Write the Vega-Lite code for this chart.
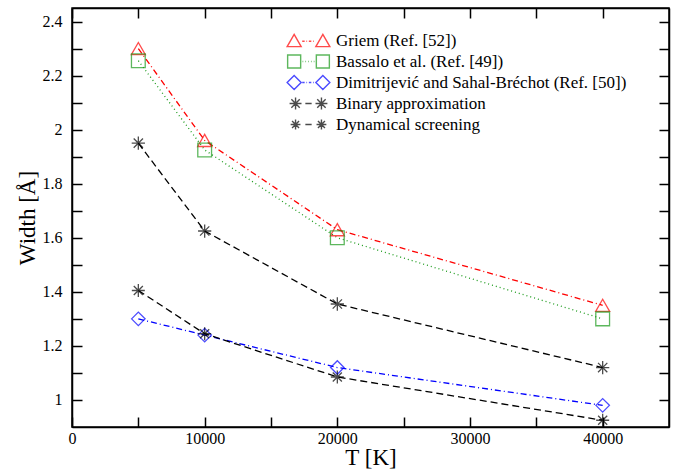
{
  "$schema": "https://vega.github.io/schema/vega-lite/v6.json",
  "width": 597,
  "height": 419,
  "autosize": {"type": "none"},
  "padding": {"left": 72, "top": 8, "right": 20, "bottom": 45},
  "background": "white",
  "data": {
    "values": [
      {"s": "Griem (Ref. [52])", "T": 5000, "w": 2.30},
      {"s": "Griem (Ref. [52])", "T": 10000, "w": 1.96},
      {"s": "Griem (Ref. [52])", "T": 20000, "w": 1.63},
      {"s": "Griem (Ref. [52])", "T": 40000, "w": 1.35},
      {"s": "Bassalo et al. (Ref. [49])", "T": 5000, "w": 2.255},
      {"s": "Bassalo et al. (Ref. [49])", "T": 10000, "w": 1.925},
      {"s": "Bassalo et al. (Ref. [49])", "T": 20000, "w": 1.60},
      {"s": "Bassalo et al. (Ref. [49])", "T": 40000, "w": 1.30},
      {"s": "Dimitrijević and Sahal-Bréchot (Ref. [50])", "T": 5000, "w": 1.30},
      {"s": "Dimitrijević and Sahal-Bréchot (Ref. [50])", "T": 10000, "w": 1.24},
      {"s": "Dimitrijević and Sahal-Bréchot (Ref. [50])", "T": 20000, "w": 1.12},
      {"s": "Dimitrijević and Sahal-Bréchot (Ref. [50])", "T": 40000, "w": 0.98},
      {"s": "Binary approximation", "T": 5000, "w": 1.95},
      {"s": "Binary approximation", "T": 10000, "w": 1.625},
      {"s": "Binary approximation", "T": 20000, "w": 1.355},
      {"s": "Binary approximation", "T": 40000, "w": 1.12},
      {"s": "Dynamical screening", "T": 5000, "w": 1.405},
      {"s": "Dynamical screening", "T": 10000, "w": 1.245},
      {"s": "Dynamical screening", "T": 20000, "w": 1.085},
      {"s": "Dynamical screening", "T": 40000, "w": 0.925}
    ]
  },
  "config": {
    "view": {"stroke": "black", "strokeWidth": 1.5},
    "font": "Liberation Serif",
    "axis": {
      "grid": false,
      "domainColor": "black",
      "domainWidth": 1.5,
      "tickColor": "black",
      "tickWidth": 1.5,
      "tickSize": -10,
      "labelColor": "black",
      "labelFont": "Liberation Serif",
      "labelFontSize": 16,
      "labelOverlap": false,
      "labelFlush": false,
      "titleFont": "Liberation Serif",
      "titleFontSize": 23,
      "titleFontWeight": "normal",
      "titleColor": "black"
    },
    "legend": {
      "orient": "none",
      "legendX": 228,
      "legendY": 24,
      "labelFont": "Liberation Serif",
      "labelFontSize": 17,
      "labelColor": "black",
      "labelLimit": 400,
      "symbolSize": 196,
      "symbolStrokeWidth": 1.4,
      "labelOffset": 19,
      "gridAlign": "all",
      "rowPadding": 0
    }
  },
  "layer": [
    {
      "mark": {"type": "line", "strokeWidth": 1.3},
      "encoding": {
        "x": {
          "field": "T", "type": "quantitative",
          "scale": {"domain": [0, 45000], "nice": false, "zero": false},
          "axis": {
            "orient": "bottom", "title": "T [K]",
            "values": [0, 5000, 10000, 15000, 20000, 25000, 30000, 35000, 40000],
            "format": "d",
            "labelExpr": "datum.value % 10000 === 0 ? datum.label : ''",
            "labelPadding": 13,
            "titlePadding": 0,
            "encode": {"ticks": {"update": {"y2": {"signal": "datum.value % 10000 === 0 ? -10 : -5"}}}}
          }
        },
        "y": {
          "field": "w", "type": "quantitative",
          "scale": {"domain": [0.9, 2.45], "nice": false, "zero": false},
          "axis": {
            "orient": "left", "title": "Width [Å]",
            "values": [1, 1.1, 1.2, 1.3, 1.4, 1.5, 1.6, 1.7, 1.8, 1.9, 2, 2.1, 2.2, 2.3, 2.4],
            "format": "~g",
            "labelExpr": "round(datum.value * 10) % 2 === 0 ? datum.label : ''",
            "labelPadding": 20,
            "titlePadding": 3,
            "encode": {"ticks": {"update": {"x2": {"signal": "round(datum.value * 10) % 2 === 0 ? 10 : 5"}}}}
          }
        },
        "color": {
          "field": "s", "type": "nominal",
          "scale": {
            "domain": ["Griem (Ref. [52])", "Bassalo et al. (Ref. [49])", "Dimitrijević and Sahal-Bréchot (Ref. [50])", "Binary approximation", "Dynamical screening"],
            "range": ["#ff0000", "#1a9a1a", "#0000ff", "#000000", "#000000"]
          },
          "legend": null
        },
        "strokeDash": {
          "field": "s", "type": "nominal",
          "scale": {
            "domain": ["Griem (Ref. [52])", "Bassalo et al. (Ref. [49])", "Dimitrijević and Sahal-Bréchot (Ref. [50])", "Binary approximation", "Dynamical screening"],
            "range": [[6, 3, 1, 3], [1, 3], [6, 3, 1, 3], [7, 4], [7, 4]]
          },
          "legend": null
        }
      }
    },
    {
      "mark": {"type": "point", "filled": false},
      "encoding": {
        "x": {
          "field": "T", "type": "quantitative",
          "scale": {"domain": [0, 45000], "nice": false, "zero": false},
          "axis": {
            "orient": "top", "title": null, "labels": false,
            "values": [0, 5000, 10000, 15000, 20000, 25000, 30000, 35000, 40000],
            "encode": {"ticks": {"update": {"y2": {"signal": "datum.value % 10000 === 0 ? 10 : 5"}}}}
          }
        },
        "y": {
          "field": "w", "type": "quantitative",
          "scale": {"domain": [0.9, 2.45], "nice": false, "zero": false},
          "axis": {
            "orient": "right", "title": null, "labels": false,
            "values": [1, 1.1, 1.2, 1.3, 1.4, 1.5, 1.6, 1.7, 1.8, 1.9, 2, 2.1, 2.2, 2.3, 2.4],
            "encode": {"ticks": {"update": {"x2": {"signal": "round(datum.value * 10) % 2 === 0 ? -10 : -5"}}}}
          }
        },
        "color": {
          "field": "s", "type": "nominal",
          "scale": {
            "domain": ["Griem (Ref. [52])", "Bassalo et al. (Ref. [49])", "Dimitrijević and Sahal-Bréchot (Ref. [50])", "Binary approximation", "Dynamical screening"],
            "range": ["#ff0000", "#1a9a1a", "#0000ff", "#000000", "#000000"]
          },
          "legend": null
        },
        "shape": {
          "field": "s", "type": "nominal",
          "scale": {
            "domain": ["Griem (Ref. [52])", "Bassalo et al. (Ref. [49])", "Dimitrijević and Sahal-Bréchot (Ref. [50])", "Binary approximation", "Dynamical screening"],
            "range": ["triangle-up", "square", "diamond", "M0,-1L0,1M-1,0L1,0M-0.7,-0.7L0.7,0.7M-0.7,0.7L0.7,-0.7", "M0,-1L0,1M-1,0L1,0M-0.7,-0.7L0.7,0.7M-0.7,0.7L0.7,-0.7"]
          },
          "legend": null
        },
        "size": {
          "field": "s", "type": "nominal",
          "scale": {
            "domain": ["Griem (Ref. [52])", "Bassalo et al. (Ref. [49])", "Dimitrijević and Sahal-Bréchot (Ref. [50])", "Binary approximation", "Dynamical screening"],
            "range": [196, 169, 150, 169, 121]
          },
          "legend": null
        },
        "strokeWidth": {
          "field": "s", "type": "nominal",
          "scale": {
            "domain": ["Griem (Ref. [52])", "Bassalo et al. (Ref. [49])", "Dimitrijević and Sahal-Bréchot (Ref. [50])", "Binary approximation", "Dynamical screening"],
            "range": [1.3, 1.3, 1.3, 2, 2]
          },
          "legend": null
        }
      }
    },
    {
      "transform": [{"filter": "false"}],
      "mark": {"type": "point", "filled": false, "strokeWidth": 1.4},
      "encoding": {
        "color": {
          "field": "s", "type": "nominal",
          "scale": {
            "domain": ["Griem (Ref. [52])", "Bassalo et al. (Ref. [49])", "Dimitrijević and Sahal-Bréchot (Ref. [50])", "Binary approximation", "Dynamical screening"],
            "range": ["#ff0000", "#1a9a1a", "#0000ff", "#000000", "#000000"]
          },
          "legend": {"title": null}
        },
        "shape": {
          "field": "s", "type": "nominal",
          "scale": {
            "domain": ["Griem (Ref. [52])", "Bassalo et al. (Ref. [49])", "Dimitrijević and Sahal-Bréchot (Ref. [50])", "Binary approximation", "Dynamical screening"],
            "range": [
              "M-2.05,-0.87 L-1.05,0.87 L-3.05,0.87 Z M2.05,-0.87 L3.05,0.87 L1.05,0.87 Z M-0.9,0.1 L-0.55,0.1 M-0.3,0.1 L-0.2,0.1 M0.05,0.1 L0.4,0.1 M0.65,0.1 L0.75,0.1",
              "M-2.98,-0.93 L-1.12,-0.93 L-1.12,0.93 L-2.98,0.93 Z M1.12,-0.93 L2.98,-0.93 L2.98,0.93 L1.12,0.93 Z M-0.85,0 L-0.75,0 M-0.45,0 L-0.35,0 M-0.05,0 L0.05,0 M0.35,0 L0.45,0 M0.75,0 L0.85,0",
              "M-3.05,0 L-2.05,-1 L-1.05,0 L-2.05,1 Z M1.05,0 L2.05,-1 L3.05,0 L2.05,1 Z M-0.9,0 L-0.55,0 M-0.3,0 L-0.2,0 M0.05,0 L0.4,0 M0.65,0 L0.75,0",
              "M-1.85,-0.85 L-1.85,0.85 M-2.7,0 L-1,0 M-2.45,-0.6 L-1.25,0.6 M-2.45,0.6 L-1.25,-0.6 M1.85,-0.85 L1.85,0.85 M1,0 L2.7,0 M1.25,-0.6 L2.45,0.6 M1.25,0.6 L2.45,-0.6 M-0.45,0 L0.45,0",
              "M-1.85,-0.7 L-1.85,0.7 M-2.55,0 L-1.15,0 M-2.35,-0.5 L-1.35,0.5 M-2.35,0.5 L-1.35,-0.5 M1.85,-0.7 L1.85,0.7 M1.15,0 L2.55,0 M1.35,-0.5 L2.35,0.5 M1.35,0.5 L2.35,-0.5 M-0.45,0 L0.45,0"
            ]
          },
          "legend": {"title": null}
        }
      }
    }
  ],
  "resolve": {
    "scale": {"color": "independent", "shape": "independent"},
    "axis": {"x": "independent", "y": "independent"}
  }
}
